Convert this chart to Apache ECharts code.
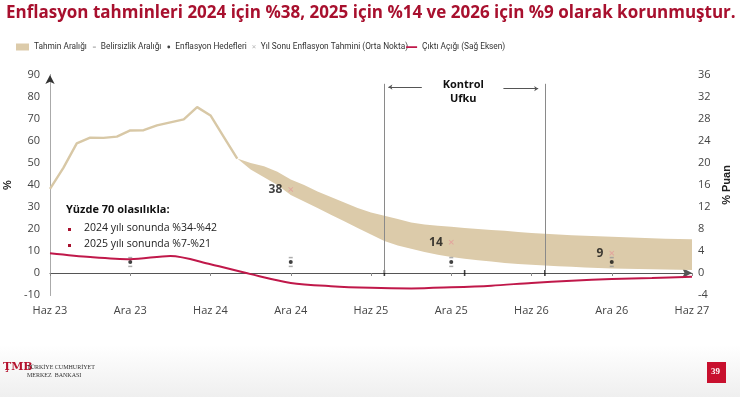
<!DOCTYPE html>
<html>
<head>
<meta charset="utf-8">
<script src="https://cdn.jsdelivr.net/npm/echarts@6/dist/echarts.min.js"></script>
<style>
html, body { margin: 0; padding: 0; background: #fff; }
#chart { width: 740px; height: 397px; }
</style>
</head>
<body>
<div id="chart"></div>
<script>
// month index: 0 = Haz 23 ... 48 = Haz 27
const tickLabels = ['Haz 23', 'Ara 23', 'Haz 24', 'Ara 24', 'Haz 25', 'Ara 25', 'Haz 26', 'Ara 26', 'Haz 27'];

// realised annual CPI inflation, Haz 23 - Ağu 24
const inflation = [38.2, 47.8, 58.9, 61.5, 61.4, 62.0, 64.8, 64.9, 67.1, 68.5, 69.8, 75.4, 71.6, 61.8, 52.0];

// forecast band (Tahmin Aralığı), from month 14 (Ağu 24) on
const bandStart = 14;
const bandLower = [52, 47, 43.5, 40, 35.5, 32.5, 29.5, 26.5, 23.5, 20.5, 17.5, 14.5, 12.5, 11, 9.5, 8.3, 7.3,
  6.5, 5.8, 5.2, 4.6, 4.1, 3.7, 3.4, 3.1, 2.8, 2.5, 2.3, 2.1, 1.9, 1.8, 1.7, 1.6, 1.5, 1.4];
const bandUpper = [52, 50, 48.5, 46, 42.5, 40, 37, 34.5, 32, 29.5, 27.5, 26, 24.5, 23, 22, 21.5, 21,
  20.5, 20, 19.6, 19.2, 18.6, 18.2, 17.8, 17.5, 17.2, 16.9, 16.7, 16.5, 16.2, 16, 15.8, 15.6, 15.4, 15.3];

// output gap (right axis), quarterly
const gapMonths = [0, 3, 6, 9, 12, 15, 18, 21, 24, 27, 30, 33, 36, 39, 42, 45, 48];
const outputGap = [3.6, 2.9, 2.5, 3.1, 1.6, -0.2, -1.8, -2.4, -2.7, -2.8, -2.6, -2.3, -1.8, -1.4, -1.1, -0.9, -0.7];

// targets and uncertainty band
const targetMonths = [6, 18, 30, 42];
const targets = [5, 5, 5, 5];
const uncLow = [3, 3, 3, 3];
const uncHigh = [7, 7, 7, 7];

// year-end forecasts (mid point)
const forecastMonths = [18, 30, 42];
const forecasts = [38, 14, 9];

// control horizon
const horizon = [25, 37];
const horizonTicks = [25, 31, 37];
const horizonTop = 86;

const TAN = '#dccbaa';
const CRIMSON = '#c0184a';

// legend icons live in a 13x7 box, the corner specks fix the path bounds
const corner = 'M0,0h.01v.01h-.01zM12.99,6.99h.01v.01h-.01z';
const xPath = 'path://M0,0.5L0.5,0L4,3.5L3.5,4zM3.5,0L4,0.5L0.5,4L0,3.5z';

const chart = echarts.init(document.getElementById('chart'));

const option = {
  animation: false,
  backgroundColor: '#fff',
  title: {
    text: 'Enflasyon tahminleri 2024 için %38, 2025 için %14 ve 2026 için %9 olarak korunmuştur.',
    left: 1, top: 0,
    textStyle: { color: '#a8102e', fontSize: 17, fontWeight: 'bold', fontFamily: 'Open Sans' }
  },
  legend: {
    left: 11, top: 38,
    itemWidth: 13, itemHeight: 7, itemGap: -4,
    textStyle: { fontSize: 8.3, color: '#333', fontFamily: 'Roboto' },
    data: [
      { name: 'Tahmin Aralığı', icon: 'rect', itemStyle: { color: TAN } },
      { name: 'Belirsizlik Aralığı', icon: 'path://' + corner + 'M10,3h3v1.2h-3z', itemStyle: { color: '#999' } },
      { name: 'Enflasyon Hedefleri', icon: 'path://' + corner + 'M10,3.5a1.4,1.4 0 1,0 2.8,0a1.4,1.4 0 1,0 -2.8,0z', itemStyle: { color: '#111' } },
      { name: 'Yıl Sonu Enflasyon Tahmini (Orta Nokta)', icon: 'path://' + corner + 'M9.5,2L10,1.5L13,4.5L12.5,5zM12.5,1.5L13,2L10,5L9.5,4.5z', itemStyle: { color: '#aaa' } },
      { name: 'Çıktı Açığı (Sağ Eksen)', icon: 'path://' + corner + 'M2,2.8h11v1.6h-11z', itemStyle: { color: CRIMSON } }
    ]
  },
  grid: { left: 50, right: 48, top: 75, bottom: 102, outerBoundsMode: 'none' },
  xAxis: [
    {
      type: 'value', min: 0, max: 48, interval: 6, position: 'bottom',
      axisLine: { show: false }, axisTick: { show: false }, splitLine: { show: false },
      axisLabel: {
        margin: 10, fontSize: 11, color: '#444', fontFamily: 'Open Sans',
        formatter: v => tickLabels[v / 6]
      }
    },
    {
      type: 'value', min: 0, max: 48, interval: 6, position: 'bottom',
      axisLine: {
        onZero: true, onZeroAxisIndex: 0,
        lineStyle: { color: '#555', width: 1 },
        symbol: ['none', 'arrow'], symbolSize: [8, 10]
      },
      axisTick: { show: true, length: 3, lineStyle: { color: '#888' } },
      axisLabel: { show: false }, splitLine: { show: false }
    }
  ],
  yAxis: [
    {
      type: 'value', min: -10, max: 90, interval: 10,
      name: '%', nameLocation: 'middle', nameGap: 37, nameRotate: 90,
      nameTextStyle: { fontSize: 11, fontWeight: 'bold', color: '#222' },
      axisLine: { show: true, lineStyle: { color: '#333' }, symbol: ['none', 'arrow'], symbolSize: [7, 9] },
      axisTick: { show: false }, splitLine: { show: false },
      axisLabel: { fontSize: 11, color: '#444', fontFamily: 'Open Sans', margin: 10 }
    },
    {
      type: 'value', min: -4, max: 36, interval: 4, position: 'right',
      name: '% Puan', nameLocation: 'middle', nameGap: 22, nameRotate: 90,
      nameTextStyle: { fontSize: 11, fontWeight: 'bold', color: '#222' },
      axisLine: { show: true, lineStyle: { color: '#aaa' } },
      axisTick: { show: false }, splitLine: { show: false },
      axisLabel: { fontSize: 11, color: '#444', fontFamily: 'Open Sans', margin: 6 }
    }
  ],
  series: [
    {
      name: 'Tahmin Aralığı', type: 'custom', coordinateSystem: 'cartesian2d',
      itemStyle: { color: TAN },
      encode: { x: 0, y: [1, 2] },
      data: bandLower.map((v, i) => [bandStart + i, v, bandUpper[i]]),
      renderItem: (params, api) => {
        if (params.dataIndex !== 0) return null;
        const top = bandUpper.map((v, i) => api.coord([bandStart + i, v]));
        const bot = bandLower.map((v, i) => api.coord([bandStart + i, v])).reverse();
        return { type: 'polygon', shape: { points: top.concat(bot) }, style: { fill: TAN } };
      }
    },
    {
      name: 'Enflasyon', type: 'line', symbol: 'none',
      lineStyle: { color: '#d8c8a6', width: 2.4 },
      data: inflation.map((v, i) => [i, v])
    },
    {
      name: 'Çıktı Açığı (Sağ Eksen)', type: 'line', yAxisIndex: 1, symbol: 'none', smooth: 0.3,
      lineStyle: { color: CRIMSON, width: 2 }, itemStyle: { color: CRIMSON },
      data: gapMonths.map((m, i) => [m, outputGap[i]])
    },
    {
      name: 'Belirsizlik Aralığı', type: 'scatter', symbol: 'rect', symbolSize: [4, 1.5],
      itemStyle: { color: '#999' },
      data: targetMonths.map((m, i) => [m, uncLow[i]]).concat(targetMonths.map((m, i) => [m, uncHigh[i]]))
    },
    {
      name: 'Enflasyon Hedefleri', type: 'scatter', symbol: 'circle', symbolSize: 4,
      itemStyle: { color: '#111' },
      data: targetMonths.map((m, i) => [m, targets[i]])
    },
    {
      name: 'Yıl Sonu Enflasyon Tahmini (Orta Nokta)', type: 'scatter', symbol: xPath, symbolSize: 5,
      itemStyle: { color: '#e59a9a' }, z: 5,
      label: {
        show: true, position: 'left', distance: 6,
        formatter: p => p.value[1], fontSize: 12, fontWeight: 'bold', color: '#111', fontFamily: 'Open Sans'
      },
      data: forecastMonths.map((m, i) => [m, forecasts[i]])
    },
    {
      name: 'Kontrol Ufku', type: 'scatter', symbol: 'rect', symbolSize: [1.6, 6],
      itemStyle: { color: '#111' },
      data: horizonTicks.map(m => [m, 0]),
      markLine: {
        silent: true, symbol: ['none', 'none'],
        label: { show: false },
        lineStyle: { color: '#8a8a8a', width: 1, type: 'solid' },
        data: [
          [{ coord: [horizon[0], 0] }, { coord: [horizon[0], horizonTop] }],
          [{ coord: [horizon[1], 0] }, { coord: [horizon[1], horizonTop] }],
          [{ coord: [27.8, 84.5], symbol: 'none', lineStyle: { color: '#555' } },
           { coord: [horizon[0] + 0.3, 84.5], symbol: 'arrow', symbolSize: 4, lineStyle: { color: '#555' } }],
          [{ coord: [33.9, 83.8], symbol: 'none', lineStyle: { color: '#555' } },
           { coord: [horizon[1] - 0.5, 83.8], symbol: 'arrow', symbolSize: 4, lineStyle: { color: '#555' } }]
        ]
      },
      markPoint: {
        silent: true, symbol: 'circle', symbolSize: 0,
        label: {
          show: true, formatter: 'Kontrol\nUfku', fontSize: 11, fontWeight: 'bold',
          color: '#111', lineHeight: 14, fontFamily: 'Open Sans'
        },
        data: [{ coord: [30.9, 82.5] }]
      }
    }
  ],
  graphic: [
    {
      type: 'rect', left: 0, top: 345, z: -10, silent: true,
      shape: { width: 740, height: 52 },
      style: {
        fill: new echarts.graphic.LinearGradient(0, 0, 0, 1, [
          { offset: 0, color: '#ffffff' }, { offset: 1, color: '#efefef' }
        ])
      }
    },
    {
      type: 'text', left: 66, top: 204,
      style: { text: 'Yüzde 70 olasılıkla:', font: 'bold 11px "Open Sans"', fill: '#111' }
    },
    { type: 'rect', left: 68, top: 228, shape: { width: 3, height: 3 }, style: { fill: '#a8102e' } },
    {
      type: 'text', left: 84, top: 223,
      style: { text: '2024 yılı sonunda %34-%42', font: '10.5px "Open Sans"', fill: '#222' }
    },
    { type: 'rect', left: 68, top: 244, shape: { width: 3, height: 3 }, style: { fill: '#a8102e' } },
    {
      type: 'text', left: 84, top: 239,
      style: { text: '2025 yılı sonunda %7-%21', font: '10.5px "Open Sans"', fill: '#222' }
    },
    {
      type: 'text', left: 3, top: 362,
      style: { text: 'ŢMB', font: 'bold 11px "DejaVu Serif"', fill: '#b5122e' }
    },
    {
      type: 'text', left: 27, top: 363,
      style: { text: 'TÜRKİYE CUMHURİYET\nMERKEZ  BANKASI', font: '6px "Liberation Serif"', fill: '#333', lineHeight: 8 }
    },
    {
      type: 'rect', left: 707, top: 362, shape: { width: 19, height: 21 },
      style: { fill: '#c8102e' }
    },
    {
      type: 'text', left: 711, top: 367,
      style: { text: '39', font: 'bold 9px "Liberation Serif"', fill: '#fff' }
    }
  ]
};

chart.setOption(option);
</script>
</body>
</html>
